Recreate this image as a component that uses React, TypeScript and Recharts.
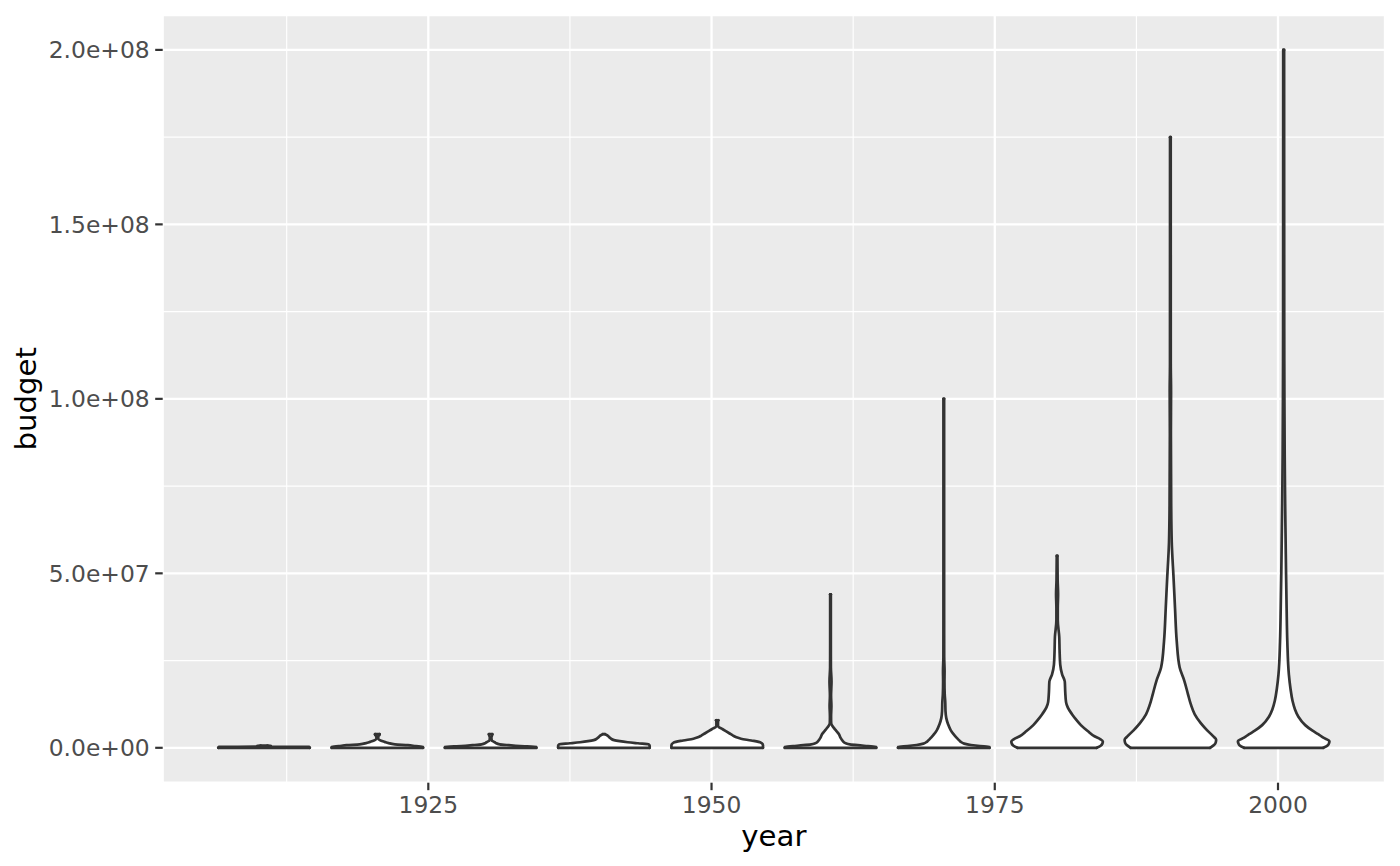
import React from 'react';
import { ComposedChart, Area, XAxis, YAxis, CartesianGrid, ReferenceLine, Label } from 'recharts';

// ---- data ----
const decadeCenters = [1910.5, 1920.5, 1930.5, 1940.5, 1950.5, 1960.5, 1970.5, 1980.5, 1990.5, 2000.5];
const maxHalfWidth = 4.04;

const budget1910 = [0, 0.25e6, 0.35e6, 0.55e6, 0.65e6];
const half1910 = [4.04, 4.0, 0.65, 0.6, 0.3];

const budget1920 = [0, 0.3e6, 0.5e6, 0.75e6, 1.0e6, 1.35e6, 1.7e6, 2.2e6, 2.6e6, 3.3e6, 3.6e6, 3.9e6];
const half1920 = [4.04, 4.0, 3.4, 2.7, 1.55, 1.0, 0.65, 0.22, 0.08, 0.08, 0.18, 0.2];

const budget1930 = [0, 0.3e6, 0.5e6, 0.75e6, 1.0e6, 1.4e6, 1.7e6, 2.1e6, 3.0e6, 3.5e6, 3.9e6];
const half1930 = [4.04, 4.0, 2.6, 1.6, 0.8, 0.45, 0.3, 0.1, 0.07, 0.12, 0.15];

const budget1940 = [0, 0.6e6, 1.0e6, 1.3e6, 1.6e6, 1.9e6, 2.2e6, 2.7e6, 3.2e6, 3.6e6, 3.9e6];
const half1940 = [4.04, 4.04, 3.95, 3.0, 2.1, 1.4, 0.9, 0.6, 0.42, 0.28, 0.1];

const budget1950 = [0, 0.8e6, 1.5e6, 2.1e6, 2.6e6, 3.0e6, 3.5e6, 4.1e6, 4.7e6, 5.4e6, 5.9e6, 6.3e6, 7.4e6, 7.9e6];
const half1950 = [4.04, 4.04, 3.85, 3.0, 2.1, 1.7, 1.4, 1.1, 0.8, 0.45, 0.15, 0.07, 0.07, 0.1];

const budget1960 = [0, 0.3e6, 0.5e6, 0.75e6, 1.0e6, 1.3e6, 1.7e6, 2.3e6, 2.9e6, 3.9e6, 4.5e6, 5.2e6, 5.8e6, 6.5e6, 7.2e6, 9e6, 1.2e7, 1.5e7, 1.9e7, 2.3e7, 3e7, 4.4e7];
const half1960 = [4.04, 4.0, 3.3, 2.4, 1.7, 1.35, 1.15, 1.0, 0.88, 0.75, 0.6, 0.42, 0.28, 0.12, 0.06, 0.05, 0.08, 0.05, 0.09, 0.035, 0.03, 0.03];

const budget1970 = [0, 0.3e6, 0.5e6, 0.8e6, 1.2e6, 1.6e6, 2.0e6, 3.0e6, 3.9e6, 5.0e6, 6.75e6, 8.5e6, 1.05e7, 1.3e7, 1.55e7, 1.9e7, 2.2e7, 2.6e7, 4e7, 1.0e8];
const half1970 = [4.04, 4.0, 3.2, 2.4, 1.8, 1.55, 1.4, 1.1, 0.86, 0.62, 0.38, 0.22, 0.15, 0.13, 0.08, 0.06, 0.07, 0.035, 0.03, 0.03];

const budget1980 = [0, 0.6e6, 1.2e6, 1.8e6, 2.5e6, 3.3e6, 4.8e6, 6.5e6, 8e6, 9.7e6, 1.15e7, 1.31e7, 1.6e7, 1.9e7, 2.1e7, 2.38e7, 2.8e7, 3.18e7, 3.66e7, 4.0e7, 4.4e7, 4.8e7, 5.5e7];
const half1980 = [3.5, 3.85, 4.0, 4.04, 3.8, 3.3, 2.7, 2.1, 1.7, 1.3, 0.95, 0.79, 0.72, 0.68, 0.45, 0.28, 0.22, 0.19, 0.06, 0.06, 0.09, 0.05, 0.03];

const budget1990 = [0, 0.8e6, 1.5e6, 2.3e6, 3.4e6, 5e6, 7e6, 9.6e6, 1.25e7, 1.54e7, 1.92e7, 2.3e7, 3.06e7, 4.0e7, 5.0e7, 5.4e7, 5.9e7, 7e7, 9e7, 1.02e8, 1.1e8, 1.75e8];
const half1990 = [3.5, 3.85, 4.0, 4.04, 3.75, 3.25, 2.7, 2.15, 1.8, 1.55, 1.23, 0.82, 0.56, 0.41, 0.26, 0.19, 0.12, 0.07, 0.045, 0.06, 0.035, 0.03];

const budget2000 = [0, 0.7e6, 1.3e6, 1.9e6, 2.9e6, 3.9e6, 4.9e6, 6.5e6, 8.9e6, 1.1e7, 1.35e7, 1.7e7, 2.1e7, 3.06e7, 4.0e7, 5.0e7, 6e7, 7e7, 8.4e7, 1e8, 1.2e8, 1.5e8, 2e8];
const half2000 = [3.5, 3.9, 4.0, 4.04, 3.5, 3.05, 2.55, 1.9, 1.3, 1.0, 0.78, 0.6, 0.46, 0.32, 0.26, 0.21, 0.17, 0.13, 0.09, 0.065, 0.05, 0.045, 0.04];

const budgetLists = [budget1910, budget1920, budget1930, budget1940, budget1950, budget1960, budget1970, budget1980, budget1990, budget2000];
const halfLists = [half1910, half1920, half1930, half1940, half1950, half1960, half1970, half1980, half1990, half2000];

const xTicks = [1925, 1950, 1975, 2000];
const xMinorTicks = [1912.5, 1937.5, 1962.5, 1987.5];
const yTicks = [0, 5e7, 1e8, 1.5e8, 2e8];
const yMinorTicks = [2.5e7, 7.5e7, 1.25e8, 1.75e8];

// ---- derived ----
const violins = decadeCenters.map((c, k) => ({
  key: 'v' + k,
  center: c,
  rows: budgetLists[k].map((b, i) => ({ budget: b, span: [c - halfLists[k][i], c + halfLists[k][i]] })),
}));

const xLo = Math.min(...decadeCenters) - maxHalfWidth;
const xHi = Math.max(...decadeCenters) + maxHalfWidth;
const xDomain = [xLo - 0.05 * (xHi - xLo), xHi + 0.05 * (xHi - xLo)];
const allBudgets = budgetLists.flat();
const yLo = Math.min(...allBudgets);
const yHi = Math.max(...allBudgets);
const yDomain = [yLo - 0.05 * (yHi - yLo), yHi + 0.05 * (yHi - yLo)];

const fmtSci = (v: number) => {
  if (v === 0) return '0.0e+00';
  const e = Math.floor(Math.log10(Math.abs(v)) + 1e-9);
  const m = v / Math.pow(10, e);
  return `${m.toFixed(1)}e${e < 0 ? '-' : '+'}${String(Math.abs(e)).padStart(2, '0')}`;
};

const FONT = 'DejaVu Sans';
const OUTLINE = '#333333';
const LW = 2.7;

const XTitle = (props: any) => {
  const vb = props.viewBox || {};
  return (
    <text x={vb.x + vb.width / 2} y={vb.y + 62.8} textAnchor="middle" fontSize={29.2} fontFamily={FONT} fill="#000000">
      year
    </text>
  );
};

const YTitle = (props: any) => {
  const vb = props.viewBox || {};
  const cx = vb.x + 36.5;
  const cy = vb.y + vb.height / 2;
  return (
    <text x={cx} y={cy} transform={`rotate(-90, ${cx}, ${cy})`} textAnchor="middle" fontSize={29.2} fontFamily={FONT} fill="#000000">
      budget
    </text>
  );
};

export default function App() {
  return (
    <div style={{ position: 'absolute', left: 0, top: 0, width: 1400, height: 866, background: '#ffffff' }}>
      <ComposedChart width={1400} height={866} layout="vertical" margin={{ top: 15, right: 15, bottom: 0, left: 0 }}>
        <CartesianGrid fill="#EBEBEB" fillOpacity={1} stroke="#FFFFFF" strokeWidth={2.3} />
        {xMinorTicks.map((x) => (
          <ReferenceLine key={'mx' + x} x={x} stroke="#FFFFFF" strokeWidth={1.15} zIndex={-50} />
        ))}
        {yMinorTicks.map((y) => (
          <ReferenceLine key={'my' + y} y={y} stroke="#FFFFFF" strokeWidth={1.15} zIndex={-50} />
        ))}
        <XAxis
          type="number"
          domain={xDomain}
          allowDataOverflow
          ticks={xTicks}
          interval={0}
          height={83.3}
          axisLine={false}
          tickLine={{ stroke: OUTLINE, strokeWidth: 2.2 }}
          tickSize={7.5}
          tickMargin={6.2}
          tick={{ fill: '#4D4D4D', fontSize: 23.4, fontFamily: FONT }}
        >
          <Label content={XTitle} />
        </XAxis>
        <YAxis
          type="number"
          dataKey="budget"
          domain={yDomain}
          allowDataOverflow
          reversed
          ticks={yTicks}
          interval={0}
          width={162.7}
          axisLine={false}
          tickLine={{ stroke: OUTLINE, strokeWidth: 2.2 }}
          tickSize={7.5}
          tickMargin={5.5}
          tickFormatter={fmtSci}
          tick={{ fill: '#4D4D4D', fontSize: 23.4, fontFamily: FONT }}
        >
          <Label content={YTitle} />
        </YAxis>
        {violins.map((v) => (
          <Area
            key={v.key}
            data={v.rows}
            dataKey="span"
            type="monotone"
            fill="#FFFFFF"
            fillOpacity={1}
            stroke={OUTLINE}
            strokeWidth={LW}
            strokeLinejoin="round"
            strokeLinecap="round"
            dot={false}
            activeDot={false}
            isAnimationActive={false}
          />
        ))}
        {violins.map((v) => {
          const r0 = v.rows[0];
          const rN = v.rows[v.rows.length - 1];
          return (
            <React.Fragment key={'cap' + v.key}>
              <ReferenceLine
                segment={[{ x: r0.span[0], y: r0.budget }, { x: r0.span[1], y: r0.budget }]}
                stroke={OUTLINE}
                strokeWidth={LW}
                strokeLinecap="round"
                zIndex={450}
              />
              <ReferenceLine
                segment={[{ x: rN.span[0], y: rN.budget }, { x: rN.span[1], y: rN.budget }]}
                stroke={OUTLINE}
                strokeWidth={LW}
                strokeLinecap="round"
                zIndex={450}
              />
            </React.Fragment>
          );
        })}
      </ComposedChart>
    </div>
  );
}
